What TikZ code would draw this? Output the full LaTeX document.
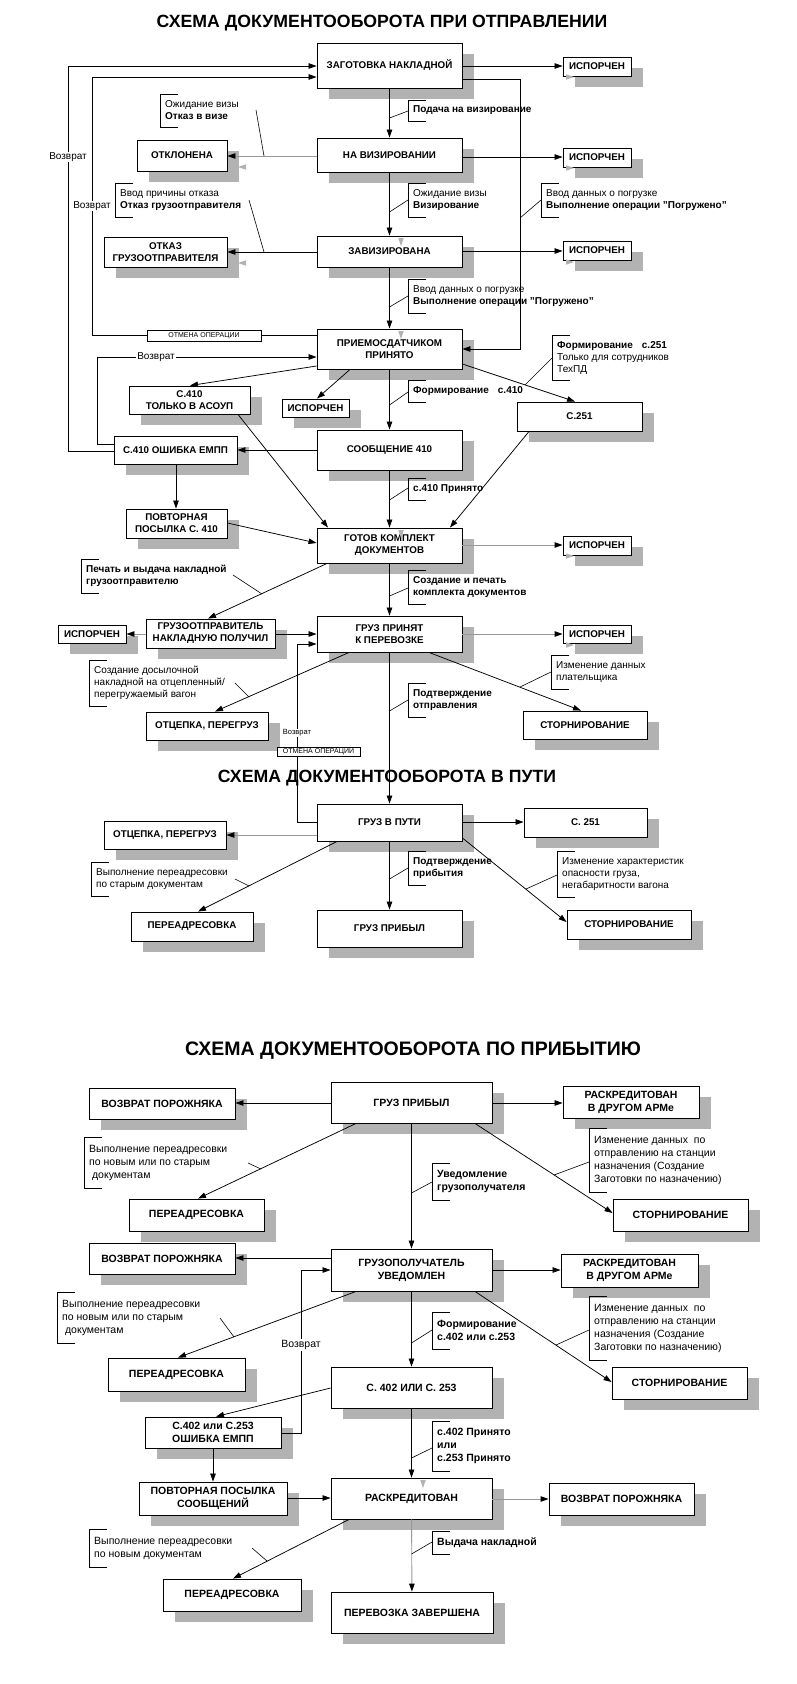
\documentclass[tikz,border=0pt]{standalone}
\usepackage{fontspec}
\setmainfont{Liberation Sans}
\usetikzlibrary{arrows.meta}
\definecolor{shd}{HTML}{B2B2B2}
\definecolor{gln}{HTML}{999999}
\tikzset{
  box/.style={draw, line width=0.9pt, fill=white, inner sep=1pt, align=center, font=\bfseries\fontsize{9.8}{12}\selectfont},
  boxc/.style={box, font=\bfseries\fontsize{10.5}{13}\selectfont},
  arr/.style={line width=0.75pt, -{Triangle[length=8pt,width=5.5pt]}},
  garr/.style={line width=0.9pt, draw=gln, -{Triangle[length=8pt,width=5.5pt,color=black]}},
  ln/.style={line width=0.6pt},
  lab/.style={anchor=west, align=left, inner sep=0pt, font=\fontsize{10}{12}\selectfont},
  labc/.style={lab, font=\fontsize{10.5}{13}\selectfont},
  ret/.style={fill=white, inner sep=1pt, font=\fontsize{10}{12}\selectfont},
  rets/.style={fill=white, inner sep=0.5pt, font=\fontsize{7.5}{9}\selectfont},
  ttl/.style={anchor=base, inner sep=0pt, font=\bfseries\fontsize{17.7}{21}\selectfont},
  cancel/.style={draw, line width=0.6pt, fill=white, inner sep=0pt, font=\fontsize{7}{8}\selectfont},
}
\newcommand\bx[7][box]{%
  \fill[shd] ({#3+12},{#4+11}) rectangle ({#5+12},{#6+11});
  \node[#1, minimum width={#5-#3}, minimum height={#6-#4}] (#2) at ({(#3+#5)/2},{(#4+#6)/2}) {#7};
}
\newcommand\lb[6][lab]{%
  \draw[ln] ({#3+18},#4) -- (#3,#4) -- (#3,#5) -- ({#3+18},#5);
  \node[#1] (#2) at ({#3+5},{(#4+#5)/2}) {#6};
}
\newcommand\shR[2]{\fill[shd] (#1,#2) -- ({#1-8},{#2-2.75}) -- ({#1-8},{#2+2.75}) -- cycle;}
\newcommand\shL[2]{\fill[shd] (#1,#2) -- ({#1+8},{#2-2.75}) -- ({#1+8},{#2+2.75}) -- cycle;}
\newcommand\shD[2]{\fill[shd] (#1,#2) -- ({#1-2.75},{#2-8}) -- ({#1+2.75},{#2-8}) -- cycle;}
\begin{document}
\begin{tikzpicture}[x=1pt,y=-1pt]
\useasboundingbox[fill=white] (0,0) rectangle (796,1684);

% ---------- titles
\node[ttl] (t1) at (382,27) {СХЕМА ДОКУМЕНТООБОРОТА ПРИ ОТПРАВЛЕНИИ};
\node[ttl] (t2) at (387,782) {СХЕМА ДОКУМЕНТООБОРОТА В ПУТИ};
\node[ttl, font=\bfseries\fontsize{19.5}{23}\selectfont] (t3) at (413,1055) {СХЕМА ДОКУМЕНТООБОРОТА ПО ПРИБЫТИЮ};

% ---------- section 1 boxes
\bx{z1}{317}{43}{462}{88}{ЗАГОТОВКА НАКЛАДНОЙ}
\bx{i1}{563}{57}{631}{76}{ИСПОРЧЕН}
\bx{v1}{317}{138}{462}{172}{НА ВИЗИРОВАНИИ}
\bx{otk}{137}{140}{227}{171}{ОТКЛОНЕНА}
\bx{i2}{563}{148}{631}{167}{ИСПОРЧЕН}
\bx{zv}{317}{236}{462}{267}{ЗАВИЗИРОВАНА}
\bx{og}{104}{237}{227}{267}{ОТКАЗ\\ГРУЗООТПРАВИТЕЛЯ}
\bx{i3}{563}{241}{631}{260}{ИСПОРЧЕН}
\bx{pp}{317}{329}{462}{369}{ПРИЕМОСДАТЧИКОМ\\ПРИНЯТО}
\bx{asu}{129}{386}{250}{414}{С.410\\ТОЛЬКО В АСОУП}
\bx{im}{282}{399}{349}{417}{ИСПОРЧЕН}
\bx{c251}{517}{402}{642}{431}{С.251}
\bx{s410}{317}{430}{462}{470}{СООБЩЕНИЕ 410}
\bx{err1}{114}{436}{237}{464}{С.410 ОШИБКА ЕМПП}
\bx{rep1}{126}{509}{227}{538}{ПОВТОРНАЯ\\ПОСЫЛКА С. 410}
\bx{gk}{317}{528}{462}{563}{ГОТОВ КОМПЛЕКТ\\ДОКУМЕНТОВ}
\bx{i4}{563}{536}{631}{555}{ИСПОРЧЕН}
\bx{gop}{146}{619}{275}{648}{ГРУЗООТПРАВИТЕЛЬ\\НАКЛАДНУЮ ПОЛУЧИЛ}
\bx{il}{58}{625}{126}{643}{ИСПОРЧЕН}
\bx{gpp}{317}{616}{462}{652}{ГРУЗ ПРИНЯТ\\К ПЕРЕВОЗКЕ}
\bx{i5}{563}{625}{631}{643}{ИСПОРЧЕН}
\bx{otc1}{146}{712}{268}{740}{ОТЦЕПКА, ПЕРЕГРУЗ}
\bx{st1}{523}{711}{647}{739}{СТОРНИРОВАНИЕ}

% ---------- section 2 boxes
\bx{gvp}{317}{804}{462}{841}{ГРУЗ В ПУТИ}
\bx{otc2}{104}{821}{226}{849}{ОТЦЕПКА, ПЕРЕГРУЗ}
\bx{c251b}{524}{808}{647}{837}{С. 251}
\bx{pa1}{131}{912}{253}{941}{ПЕРЕАДРЕСОВКА}
\bx{gpr1}{317}{910}{462}{947}{ГРУЗ ПРИБЫЛ}
\bx{st2}{567}{910}{691}{939}{СТОРНИРОВАНИЕ}

% ---------- section 3 boxes
\bx[boxc]{c1}{331}{1082}{492}{1123}{ГРУЗ ПРИБЫЛ}
\bx[boxc]{vp1}{89}{1088}{235}{1119}{ВОЗВРАТ ПОРОЖНЯКА}
\bx[boxc]{rk1}{563}{1086}{699}{1118}{РАСКРЕДИТОВАН\\В ДРУГОМ АРМе}
\bx[boxc]{pa2}{129}{1199}{264}{1231}{ПЕРЕАДРЕСОВКА}
\bx[boxc]{st3}{613}{1199}{748}{1231}{СТОРНИРОВАНИЕ}
\bx[boxc]{vp2}{89}{1243}{235}{1274}{ВОЗВРАТ ПОРОЖНЯКА}
\bx[boxc]{gu}{331}{1249}{492}{1291}{ГРУЗОПОЛУЧАТЕЛЬ\\УВЕДОМЛЕН}
\bx[boxc]{rk2}{561}{1254}{698}{1287}{РАСКРЕДИТОВАН\\В ДРУГОМ АРМе}
\bx[boxc]{pa3}{108}{1358}{245}{1391}{ПЕРЕАДРЕСОВКА}
\bx[boxc]{c402}{331}{1367}{492}{1408}{С. 402 ИЛИ С. 253}
\bx[boxc]{st4}{612}{1367}{747}{1399}{СТОРНИРОВАНИЕ}
\bx[boxc]{err2}{145}{1417}{281}{1448}{С.402 или С.253\\ОШИБКА ЕМПП}
\bx[boxc]{rep2}{139}{1482}{287}{1515}{ПОВТОРНАЯ ПОСЫЛКА\\СООБЩЕНИЙ}
\bx[boxc]{rkd}{331}{1478}{492}{1519}{РАСКРЕДИТОВАН}
\bx[boxc]{vp3}{549}{1483}{694}{1515}{ВОЗВРАТ ПОРОЖНЯКА}
\bx[boxc]{pa4}{163}{1579}{301}{1611}{ПЕРЕАДРЕСОВКА}
\bx[boxc]{pz}{331}{1592}{493}{1633}{ПЕРЕВОЗКА ЗАВЕРШЕНА}

% ---------- section 1 connectors
\draw[arr] (z1.east |- 0,66) -- (i1.west |- 0,66);
\draw[arr] (err1.west |- 0,451) -- (68,451) -- (68,66) -- (z1.west |- 0,66);
\draw[arr] (pp.west |- 0,335) -- (92,335) -- (92,77) -- (z1.west |- 0,77);
\draw[arr] (z1.east |- 0,79) -- (520,79) -- (520,349) -- (pp.east |- 0,349);
\draw[arr] (z1) -- (v1);
\draw[garr] (v1.west |- 0,156) -- (otk.east |- 0,156);
\draw[arr] (v1.east |- 0,157) -- (i2.west |- 0,157);
\draw[arr] (v1) -- (zv);
\draw[arr] (zv.west |- 0,252) -- (og.east |- 0,252);
\draw[arr] (zv.east |- 0,251) -- (i3.west |- 0,251);
\draw[arr] (zv) -- (pp);
\draw[arr] (err1.west |- 0,444) -- (97,444) -- (97,357) -- (pp.west |- 0,357);
\draw[arr] (pp.west |- 0,366) -- (asu.north -| 190,0);
\draw[arr] (pp.south -| 350,0) -- (im.north -| 317,0);
\draw[arr] (pp) -- (s410);
\draw[arr] (pp.east |- 0,364) -- (c251.north -| 575,0);
\draw[arr] (s410.west |- 0,450) -- (err1.east |- 0,450);
\draw[arr] (asu.south -| 238,0) -- (gk.north -| 328,0);
\draw[arr] (c251.south -| 529,0) -- (gk.north -| 450,0);
\draw[arr] (s410) -- (gk);
\draw[arr] (err1.south -| 176,0) -- (rep1.north -| 176,0);
\draw[arr] (rep1.east |- 0,523) -- (gk.west |- 0,543);
\draw[garr] (gk.east |- 0,545) -- (i4.west |- 0,545);
\draw[arr] (gk.south -| 327,0) -- (gop.north -| 208,0);
\draw[arr] (gk) -- (gpp);
\draw[garr] (gop.west |- 0,634) -- (il.east |- 0,634);
\draw[arr] (gop.east |- 0,634) -- (gpp.west |- 0,634);
\draw[garr] (gpp.east |- 0,634) -- (i5.west |- 0,634);
\draw[arr] (gvp.west |- 0,822) -- (297,822) -- (297,644) -- (gpp.west |- 0,644);
\draw[arr] (gpp.south -| 349,0) -- (otc1.north -| 215,0);
\draw[arr] (gpp) -- (gvp);
\draw[arr] (gpp.south -| 429,0) -- (st1.north -| 581,0);

% ---------- section 2 connectors
\draw[garr] (gvp.west |- 0,835) -- (otc2.east |- 0,835);
\draw[arr] (gvp.east |- 0,822) -- (c251b.west |- 0,822);
\draw[arr] (gvp.south -| 337,0) -- (pa1.north -| 198,0);
\draw[arr] (gvp) -- (gpr1);
\draw[arr] (gvp.east |- 0,838) -- (st2.west |- 0,922);

% ---------- section 3 connectors
\draw[arr] (c1.west |- 0,1103) -- (vp1.east |- 0,1103);
\draw[arr] (c1.east |- 0,1103) -- (rk1.west |- 0,1103);
\draw[arr] (c1.south -| 356,0) -- (pa2.north -| 198,0);
\draw[arr] (c1) -- (gu);
\draw[arr] (c1.south -| 475,0) -- (st3.west |- 0,1213);
\draw[arr] (gu.west |- 0,1258) -- (vp2.east |- 0,1258);
\draw[arr] (gu.east |- 0,1270) -- (rk2.west |- 0,1270);
\draw[arr] (err2.east |- 0,1433) -- (301,1433) -- (301,1270) -- (gu.west |- 0,1270);
\draw[arr] (gu.south -| 356,0) -- (pa3.north -| 178,0);
\draw[arr] (gu) -- (c402);
\draw[arr] (gu.south -| 475,0) -- (st4.west |- 0,1382);
\draw[arr] (c402.west |- 0,1388) -- (err2.north -| 216,0);
\draw[arr] (err2.south -| 213,0) -- (rep2.north -| 213,0);
\draw[arr] (rep2.east |- 0,1498) -- (rkd.west |- 0,1498);
\draw[arr] (c402) -- (rkd);
\draw[garr] (rkd.east |- 0,1499) -- (vp3.west |- 0,1499);
\draw[arr] (rkd.south -| 349,0) -- (pa4.north -| 233,0);
\draw[garr] (rkd) -- (pz);

% ---------- labels: main column
\lb{l1}{408}{100}{121}{\textbf{Подача на визирование}}
\lb{l2}{408}{183}{217}{Ожидание визы\\\textbf{Визирование}}
\lb{l3}{408}{279}{313}{Ввод данных о погрузке\\\textbf{Выполнение операции "Погружено"}}
\lb{l4}{408}{380}{402}{\textbf{Формирование\hspace{0.9em}с.410}}
\lb{l5}{408}{478}{500}{\textbf{с.410 Принято}}
\lb{l6}{408}{570}{604}{\textbf{Создание и печать}\\\textbf{комплекта документов}}
\lb{l7}{408}{683}{717}{\textbf{Подтверждение}\\\textbf{отправления}}
\lb{l8}{408}{851}{885}{\textbf{Подтверждение}\\\textbf{прибытия}}
\lb[labc]{l9}{432}{1163}{1200}{\textbf{Уведомление}\\\textbf{грузополучателя}}
\lb[labc]{l10}{432}{1312}{1349}{\textbf{Формирование}\\\textbf{с.402 или с.253}}
\lb[labc]{l11}{432}{1421}{1471}{\textbf{с.402 Принято}\\\textbf{или}\\\textbf{с.253 Принято}}
\lb[labc]{l12}{432}{1531}{1554}{\textbf{Выдача накладной}}
\draw[ln] (z1.south |- 0,118) -- (408,111);
\draw[ln] (v1.south |- 0,212) -- (408,200);
\draw[ln] (zv.south |- 0,307) -- (408,296);
\draw[ln] (pp.south |- 0,405) -- (408,392);
\draw[ln] (s410.south |- 0,500) -- (408,488);
\draw[ln] (gk.south |- 0,596) -- (408,588);
\draw[ln] (gpp.south |- 0,711) -- (408,700);
\draw[ln] (gvp.south |- 0,879) -- (408,868);
\draw[ln] (c1.south |- 0,1193) -- (432,1182);
\draw[ln] (gu.south |- 0,1343) -- (432,1330);
\draw[ln] (c402.south |- 0,1458) -- (432,1448);
\draw[ln] (rkd.south |- 0,1554) -- (432,1542);

% ---------- labels: side
\lb{s1}{160}{94}{127}{Ожидание визы\\\textbf{Отказ в визе}}
\lb{s2}{115}{183}{217}{Ввод причины отказа\\\textbf{Отказ грузоотправителя}}
\lb{s3}{541}{183}{217}{Ввод данных о погрузке\\\textbf{Выполнение операции "Погружено"}}
\lb{s4}{552}{335}{380}{\textbf{Формирование\hspace{0.9em}с.251}\\Только для сотрудников\\ТехПД}
\lb{s5}{81}{559}{593}{\textbf{Печать и выдача накладной}\\\textbf{грузоотправителю}}
\lb{s6}{89}{660}{706}{Создание досылочной\\накладной на отцепленный/\\перегружаемый вагон}
\lb{s7}{551}{655}{689}{Изменение данных\\плательщика}
\lb{s8}{91}{862}{896}{Выполнение переадресовки\\по старым документам}
\lb{s9}{557}{851}{897}{Изменение характеристик\\опасности груза,\\негабаритности вагона}
\lb[labc]{s10}{84}{1137}{1188}{Выполнение переадресовки\\по новым или по старым\\\ документам}
\lb[labc]{s11}{589}{1128}{1192}{Изменение данных\ \ по\\отправлению на станции\\назначения (Создание\\Заготовки по назначению)}
\lb[labc]{s12}{57}{1292}{1343}{Выполнение переадресовки\\по новым или по старым\\\ документам}
\lb[labc]{s13}{589}{1296}{1360}{Изменение данных\ \ по\\отправлению на станции\\назначения (Создание\\Заготовки по назначению)}
\lb[labc]{s14}{89}{1529}{1567}{Выполнение переадресовки\\по новым документам}
\draw[ln] (256,110) -- (264,156);
\draw[ln] (249,200) -- (264,252);
\draw[ln] (520,218) -- (541,200);
\draw[ln] (525,385) -- (552,358);
\draw[ln] (233,575) -- (262,594);
\draw[ln] (235,683) -- (249,697);
\draw[ln] (551,672) -- (520,687);
\draw[ln] (235,879) -- (249,886);
\draw[ln] (557,875) -- (526,889);
\draw[ln] (248,1163) -- (261,1169);
\draw[ln] (589,1162) -- (554,1175);
\draw[ln] (220,1318) -- (234,1337);
\draw[ln] (589,1330) -- (556,1345);
\draw[ln] (252,1548) -- (267,1561);

% ---------- line labels
\node[ret] (r1) at (68,157) {Возврат};
\node[ret] (r2) at (92,206) {Возврат};
\node[ret] (r3) at (156,357) {Возврат};
\node[rets] (r4) at (297,733) {Возврат};
\node[ret, font=\fontsize{10.5}{13}\selectfont] (r5) at (301,1345) {Возврат};
\node[cancel, minimum width=114, minimum height=11] (om1) at (204,335.5) {ОТМЕНА ОПЕРАЦИИ};
\node[cancel, minimum width=83, minimum height=9] (om2) at (318.5,751.5) {ОТМЕНА ОПЕРАЦИИ};

% ---------- arrowhead shadows
\shL{238}{167}
\shL{238}{263}
\shR{574}{77}
\shR{574}{168}
\shR{574}{262}
\shR{574}{556}
\shR{574}{645}
\shD{401}{246}
\shD{401}{339}
\shD{401}{538}
\shD{423}{1488}
\end{tikzpicture}
\end{document}
